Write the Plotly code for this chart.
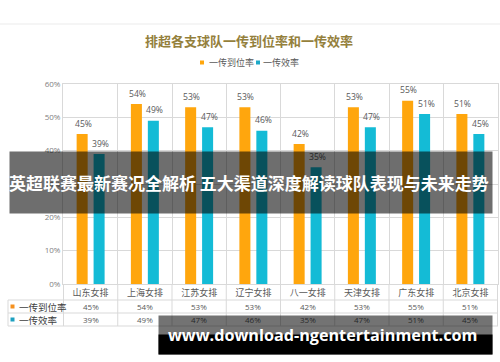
import plotly.graph_objects as go

# ---- data ----
teams = ["山东女排", "上海女排", "江苏女排", "辽宁女排", "八一女排", "天津女排", "广东女排", "北京女排"]
pass_rate = [45, 54, 53, 53, 42, 53, 55, 51]      # 一传到位率 (%)
pass_eff = [39, 49, 47, 46, 35, 47, 51, 45]       # 一传效率 (%)
series_names = ["一传到位率", "一传效率"]
y_ticks = [0, 10, 20, 30, 40, 50, 60]
y_tick_labels = ["0%", "10%", "20%", "30%", "40%", "50%", "60%"]

title_text = "排超各支球队一传到位率和一传效率"
banner_text = "英超联赛最新赛况全解析 五大渠道深度解读球队表现与未来走势"
watermark_text = "www.download-ngentertainment.com"

# ---- layout geometry (pixels) ----
W, H = 500, 362
L, R, T, B = 63, 2, 84, 78
PW, PH = W - L - R, H - T - B


def px(x):
    return (x - L) / PW


def py(y):
    return (T + PH - y) / PH


CJK = "Noto Sans CJK SC"
ORANGE = "#FFA60D"
CYAN = "#14BBD6"
GRID = "#D9D9D9"
TXT = "#595959"

fig = go.Figure()
fig.add_trace(go.Bar(
    x=teams, y=pass_rate, name=series_names[0],
    marker=dict(color=ORANGE, line=dict(width=0)),
))
fig.add_trace(go.Bar(
    x=teams, y=pass_eff, name=series_names[1],
    marker=dict(color=CYAN, line=dict(width=0)),
))

shapes = []
annotations = []

# card top line
shapes.append(dict(type="line", xref="paper", yref="paper", x0=px(0), x1=px(500),
                   y0=py(24), y1=py(24), line=dict(color="#EBEBEB", width=1), layer="below"))

# bar value labels (placed in data coordinates above each bar)
for series, shift in [(pass_rate, -7.5), (pass_eff, 10)]:
    for t, v in zip(teams, series):
        annotations.append(dict(text=f"{v}%", xref="x", yref="y", x=t, y=v,
                                xshift=shift, yshift=10.5, xanchor="center", yanchor="middle",
                                showarrow=False, font=dict(family="Open Sans", size=8.6, color=TXT)))

# table lines
for yy in [300, 313, 326]:
    shapes.append(dict(type="line", xref="paper", yref="paper", x0=px(8), x1=px(498),
                       y0=py(yy), y1=py(yy), line=dict(color=GRID, width=1)))
shapes.append(dict(type="line", xref="paper", yref="paper", x0=px(8), x1=px(8),
                   y0=py(300), y1=py(326), line=dict(color=GRID, width=1)))
for k in range(len(teams) + 1):
    shapes.append(dict(type="line", xref="x", yref="paper", x0=k - 0.5, x1=k - 0.5,
                       y0=py(284), y1=py(326), line=dict(color=GRID, width=1)))

# top legend
legend_items = [(200, 207, ORANGE, series_names[0]), (256, 261, "#1DA9C8", series_names[1])]
for sx, tx, col, name in legend_items:
    shapes.append(dict(type="rect", xref="paper", yref="paper", x0=px(sx), x1=px(sx + 4),
                       y0=py(64.5), y1=py(60.5), fillcolor=col, line=dict(width=0)))
    annotations.append(dict(text=name, xref="paper", yref="paper", x=px(tx), y=py(62.5),
                            xanchor="left", yanchor="middle", showarrow=False,
                            font=dict(family=CJK, size=9, color=TXT)))

# title
annotations.append(dict(text=f"<b>{title_text}</b>", xref="paper", yref="paper", x=px(249), y=py(40),
                        xanchor="center", yanchor="middle", showarrow=False,
                        font=dict(family=CJK, size=13, color="#94803C")))

# table row keys and labels
rows = [(306.5, "#F5901E", series_names[0], pass_rate), (319.5, "#1DA0C0", series_names[1], pass_eff)]
for yy, col, name, vals in rows:
    shapes.append(dict(type="rect", xref="paper", yref="paper", x0=px(10.5), x1=px(14.5),
                       y0=py(yy + 2), y1=py(yy - 2), fillcolor=col, line=dict(width=0)))
    annotations.append(dict(text=name, xref="paper", yref="paper", x=px(16.5), y=py(yy),
                            xanchor="left", yanchor="middle", showarrow=False,
                            font=dict(family=CJK, size=9.5, color="#404040")))
    for t, v in zip(teams, vals):
        annotations.append(dict(text=f"{v}%", xref="x", yref="paper", x=t, y=py(yy),
                                xanchor="center", yanchor="middle", showarrow=False,
                                font=dict(family="Open Sans", size=8, color=TXT)))

# banner overlay (annotation box so it dims the labels beneath it)
annotations.append(dict(text=" ", xref="paper", yref="paper", x=px(9), y=py(151),
                        xanchor="left", yanchor="top", showarrow=False, width=482, height=61,
                        borderpad=0, bgcolor="rgba(0,0,0,0.57)", font=dict(size=1)))
annotations.append(dict(text=f"<b>{banner_text}</b>", xref="paper", yref="paper", x=px(248.5), y=py(182),
                        xanchor="center", yanchor="middle", showarrow=False,
                        font=dict(family=CJK, size=17, color="#FFFFFF")))

# watermark boxes
annotations.append(dict(text=" ", xref="paper", yref="paper", x=px(158), y=py(315),
                        xanchor="left", yanchor="top", showarrow=False, width=333, height=38,
                        borderpad=0, bgcolor="rgba(0,0,0,0.55)", font=dict(size=1)))
annotations.append(dict(text=" ", xref="paper", yref="paper", x=px(158), y=py(334),
                        xanchor="left", yanchor="top", showarrow=False, width=333, height=19,
                        borderpad=0, bgcolor="#000000", font=dict(size=1)))
annotations.append(dict(text=f"<b>{watermark_text}</b>", xref="paper", yref="paper", x=px(322), y=py(335),
                        xanchor="center", yanchor="middle", showarrow=False,
                        font=dict(family="Open Sans", size=16.2, color="#FFFFFF")))

fig.update_layout(
    width=W, height=H,
    margin=dict(l=L, r=R, t=T, b=B, pad=0, autoexpand=False),
    paper_bgcolor="#FFFFFF", plot_bgcolor="#FFFFFF",
    barmode="group", bargap=0.375, bargroupgap=0.35,
    showlegend=False,
    shapes=shapes, annotations=annotations,
    xaxis=dict(type="category", tickson="boundaries", showgrid=True, gridcolor=GRID,
               showline=True, linecolor=GRID, mirror=True, ticks="", automargin=False,
               tickfont=dict(family=CJK, size=9, color=TXT), fixedrange=True),
    yaxis=dict(range=[0, 60], tickvals=y_ticks, ticktext=y_tick_labels, showgrid=True, gridcolor=GRID,
               showline=True, linecolor=GRID, mirror=True, zeroline=False, ticks="", automargin=False,
               tickfont=dict(family="Open Sans", size=8, color="#7F7F7F"), fixedrange=True),
)

fig.write_html("out.html", config={"displayModeBar": False},
               post_script="document.body.style.margin='0';document.body.style.overflow='hidden';")
